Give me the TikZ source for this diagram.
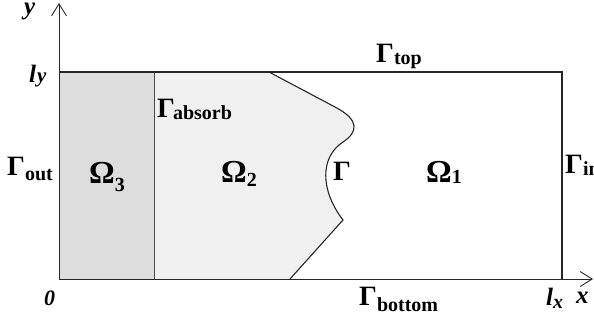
\documentclass[tikz,border=0pt]{standalone}
\usepackage{fontspec}
\setmainfont{Liberation Serif}
\usetikzlibrary{arrows.meta}
\newcommand{\lsub}[2][5pt]{\raisebox{-#1}{\fontsize{20}{20}\selectfont\bfseries #2}}
\begin{document}
\begin{tikzpicture}[x=1pt,y=-1pt,
  edge/.style={line width=1.3pt,black!85},
  axis/.style={line width=0.9pt,black!85,-{Straight Barb[length=12pt,width=15pt,line width=0.9pt]}},
  gam/.style={font=\fontsize{28}{28}\selectfont\bfseries,inner sep=0pt,anchor=base west},
  omg/.style={font=\fontsize{32}{32}\selectfont\bfseries,inner sep=0pt,anchor=base west},
  ital/.style={font=\fontsize{25}{25}\selectfont\bfseries\itshape,inner sep=0pt,anchor=base west}]
\useasboundingbox (0,0) rectangle (594,322);
\coordinate (O) at (59,279);
\coordinate (TL) at (59,72);
\coordinate (TR) at (562,72);
\coordinate (BR) at (562,279);
\coordinate (Xend) at (593,279);
\coordinate (Yend) at (59,3);
\coordinate (AT) at (154,72);
\coordinate (AB) at (154,279);
% shaded regions
\fill[gray!27] (TL) rectangle (AB);
\fill[gray!12] (AT) -- (269,72) -- (335,107) .. controls (360,120) and (358,132) .. (343,142)
  .. controls (320,157) and (320,190) .. (343,220) -- (290,279) -- (AB) -- cycle;
% interface
\draw[black!85,line width=1.1pt] (269,72) -- (335,107) .. controls (360,120) and (358,132) .. (343,142)
  .. controls (320,157) and (320,190) .. (343,220) -- (290,279);
\draw[line width=0.6pt,gray!60!black] (AT) -- (AB);
% box
\draw[edge] (TL) -- (TR) -- (BR);
\draw[axis] (O) -- (Xend);
\draw[axis] (O) -- (Yend);
% labels
\node[ital] (ylab) at (24,14) {y};
\node[ital] (ly) at (29,82) {l\kern1pt{\fontsize{21}{21}\selectfont y}};
\node[font=\fontsize{22}{22}\selectfont\bfseries\itshape,inner sep=0pt,anchor=base west] (zero) at (44,305) {0};
\node[gam] (gout) at (7,175) {Γ\lsub{out}};
\node[omg] (om3) at (89,183) {Ω\lsub[8pt]{3}};
\node[omg] (om2) at (221,182) {Ω\lsub[4pt]{2}};
\node[gam] (gabs) at (157,117) {Γ\kern-2pt\lsub[2pt]{absorb}};
\node[gam] (gtop) at (376,62) {Γ\lsub[2pt]{top}};
\node[gam] (gam) at (333,180) {Γ};
\node[omg] (om1) at (426,182) {Ω\lsub[1pt]{1}};
\node[gam] (gin) at (565,173) {Γ\lsub[2pt]{in}};
\node[gam] (gbot) at (359,305) {Γ\lsub[6pt]{bottom}};
\node[ital] (lx) at (546,305) {l\lsub[3pt]{\itshape x}};
\node[ital] (xlab) at (576,303) {x};
\end{tikzpicture}
\end{document}
